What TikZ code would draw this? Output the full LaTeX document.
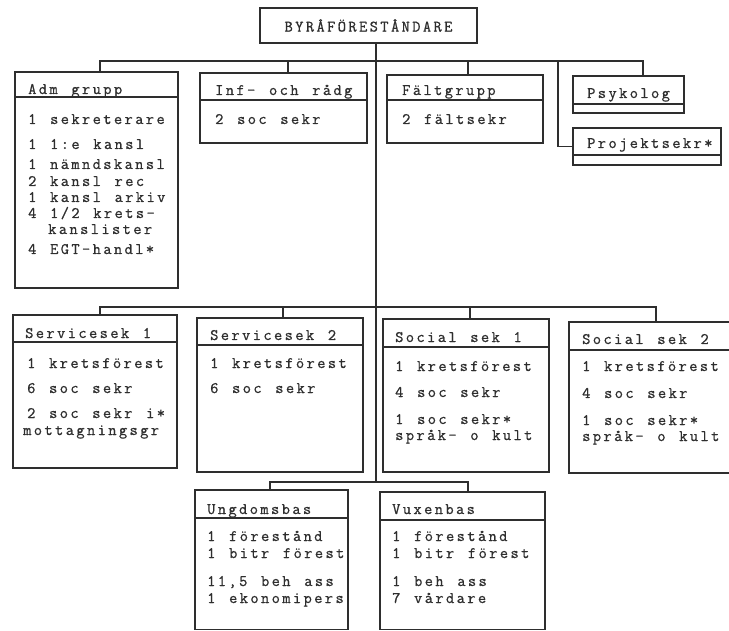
\documentclass[tikz,border=0pt]{standalone}
\usepackage{fontspec}
\setmonofont[LetterSpace=15,WordSpace=1.286,FakeBold=0.8]{Latin Modern Mono}
\usetikzlibrary{fit}
\definecolor{ink}{HTML}{2E2E2E}
\tikzset{
  box/.style={draw=ink, line width=1.3pt, inner sep=0pt},
  link/.style={draw=ink, line width=1.3pt},
  txt/.style={anchor=base west, inner sep=0pt, text=ink, font=\ttfamily\fontsize{16}{18}\selectfont},
}
\newcommand\obox[6]{%
  \coordinate (#1-a) at (#2,#3);
  \coordinate (#1-b) at (#4,#5);
  \node[box, fit=(#1-a)(#1-b)] (#1) {};
  \draw[link] (#1.west |- 0,#6) -- (#1.east |- 0,#6);}
\begin{document}
\begin{tikzpicture}[x=1pt,y=-1pt]
\useasboundingbox[fill=white] (0,0) rectangle (729,631);
% top
\node[box, minimum width=217pt, minimum height=35pt, text=ink,
  font=\ttfamily\fontsize{16}{18}\selectfont] (chief) at (368.5,25.5) {BYRÅFÖRESTÅNDARE};
% row 1
\obox{adm}{15}{72}{178}{288}{97}
\obox{inf}{200}{73}{367}{143}{100}
\obox{falt}{387}{75}{543}{143}{100}
\obox{psyk}{573}{76}{684}{113}{104}
\obox{proj}{573}{128}{721}{165}{155}
% row 2
\obox{serv1}{13}{315}{177}{468}{342}
\obox{serv2}{197}{318}{363}{472}{345}
\obox{soc1}{383}{319}{549}{472}{347}
\obox{soc2}{569}{322}{733}{473}{350}
% row 3
\obox{ung}{195}{490}{348}{629.5}{518}
\obox{vux}{380}{492}{545}{629.5}{520}
% texts row 1
\node[txt] (adm0) at (28,94) {Adm grupp};
\node[txt] (adm1) at (28,124) {1 sekreterare};
\node[txt] (adm2) at (28,149) {1 1:e kansl};
\node[txt] (adm3) at (28,169) {1 nämndskansl};
\node[txt] (adm4) at (28,186) {2 kansl rec};
\node[txt] (adm5) at (28,202) {1 kansl arkiv};
\node[txt] (adm6) at (28,218) {4 1/2 krets-};
\node[txt] (adm7) at (48,234) {kanslister};
\node[txt] (adm8) at (28,254) {4 EGT-handl*};
\node[txt] (inf0) at (215,95) {Inf- och rådg};
\node[txt] (inf1) at (215,124) {2 soc sekr};
\node[txt] (falt0) at (402,95) {Fältgrupp};
\node[txt] (falt1) at (402,124) {2 fältsekr};
\node[txt] (psyk0) at (587,98) {Psykolog};
\node[txt] (proj0) at (587,148) {Projektsekr*};
% texts row 2
\node[txt] (serv10) at (25,338) {Servicesek 1};
\node[txt] (serv11) at (27,368) {1 kretsförest};
\node[txt] (serv12) at (27,393) {6 soc sekr};
\node[txt] (serv13) at (27,418) {2 soc sekr i*};
\node[txt] (serv14) at (23,435) {mottagningsgr};
\node[txt] (serv20) at (210,340) {Servicesek 2};
\node[txt] (serv21) at (210,368) {1 kretsförest};
\node[txt] (serv22) at (210,393) {6 soc sekr};
\node[txt] (soc10) at (395,342) {Social sek 1};
\node[txt] (soc11) at (395,371) {1 kretsförest};
\node[txt] (soc12) at (395,397) {4 soc sekr};
\node[txt] (soc13) at (395,424) {1 soc sekr*};
\node[txt] (soc14) at (395,440) {språk- o kult};
\node[txt] (soc20) at (582,344) {Social sek 2};
\node[txt] (soc21) at (582,371) {1 kretsförest};
\node[txt] (soc22) at (582,398) {4 soc sekr};
\node[txt] (soc23) at (582,425) {1 soc sekr*};
\node[txt] (soc24) at (582,441) {språk- o kult};
% texts row 3
\node[txt] (ung0) at (207,514) {Ungdomsbas};
\node[txt] (ung1) at (207,541) {1 förestånd};
\node[txt] (ung2) at (207,558) {1 bitr förest};
\node[txt] (ung3) at (207,586) {11,5 beh ass};
\node[txt] (ung4) at (207,603) {1 ekonomipers};
\node[txt] (vux0) at (392,514) {Vuxenbas};
\node[txt] (vux1) at (392,541) {1 förestånd};
\node[txt] (vux2) at (392,558) {1 bitr förest};
\node[txt] (vux3) at (392,586) {1 beh ass};
\node[txt] (vux4) at (392,603) {7 vårdare};
% connectors
\coordinate (v1) at (376,482);
\draw[link] (chief.south -| v1) -- (v1);
\coordinate (h1w) at (100,61);
\coordinate (h1e) at (643,61);
\draw[link] (adm.north -| h1w) -- (h1w) -- (h1e) -- (psyk.north -| h1e);
\coordinate (t-inf) at (288,61);
\coordinate (t-falt) at (468,61);
\coordinate (t-proj) at (558,61);
\draw[link] (t-inf) -- (t-inf |- inf.north);
\draw[link] (t-falt) -- (t-falt |- falt.north);
\draw[link] (t-proj) |- (proj.west);
\coordinate (h2w) at (100,307);
\coordinate (h2e) at (656,307);
\draw[link] (serv1.north -| h2w) -- (h2w) -- (h2e) -- (soc2.north -| h2e);
\coordinate (t-serv2) at (283,307);
\coordinate (t-soc1) at (470,307);
\draw[link] (t-serv2) -- (t-serv2 |- serv2.north);
\draw[link] (t-soc1) -- (t-soc1 |- soc1.north);
\coordinate (h3w) at (270,482);
\coordinate (h3e) at (468,482);
\draw[link] (ung.north -| h3w) -- (h3w) -- (h3e) -- (vux.north -| h3e);
\end{tikzpicture}
\end{document}
